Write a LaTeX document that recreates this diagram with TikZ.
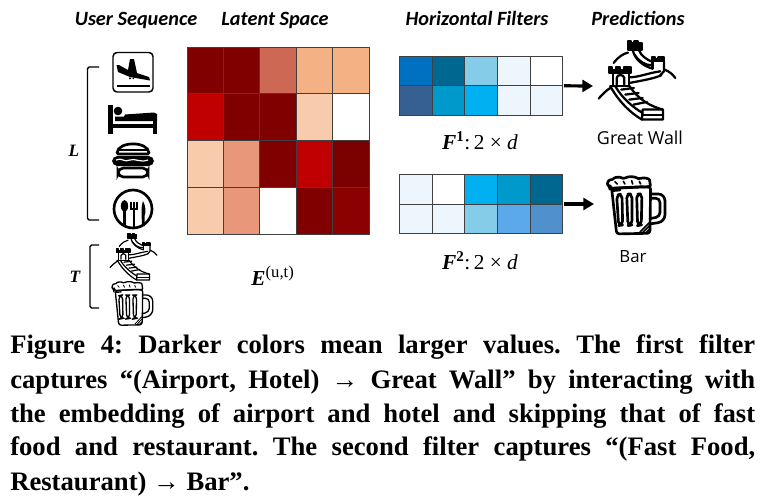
\documentclass[tikz,border=0pt]{standalone}
\usepackage{fontspec}
\setmainfont{Liberation Serif}
\setsansfont{Carlito}
\newfontfamily\lblfont{Open Sans}
\usetikzlibrary{arrows.meta}
\definecolor{dkA}{HTML}{800000}
\definecolor{dkB}{HTML}{8B0000}
\definecolor{dkC}{HTML}{7B0000}
\definecolor{rdA}{HTML}{C00000}
\definecolor{rdB}{HTML}{CD6855}
\definecolor{orA}{HTML}{F4B183}
\definecolor{orB}{HTML}{F8CBAD}
\definecolor{orC}{HTML}{E9977A}
\definecolor{blA}{HTML}{0070C0}
\definecolor{blB}{HTML}{006890}
\definecolor{blC}{HTML}{85CCE8}
\definecolor{blD}{HTML}{EEF6FD}
\definecolor{blE}{HTML}{366092}
\definecolor{blF}{HTML}{0099CC}
\definecolor{blG}{HTML}{00B0F0}
\definecolor{blH}{HTML}{5BA8EA}
\definecolor{blI}{HTML}{5090CC}
\definecolor{gridc}{HTML}{404040}
\tikzset{
  head/.style={font=\sffamily\bfseries\itshape\fontsize{15.2}{17}\selectfont,anchor=base,inner sep=0pt},
  capline/.style={anchor=base west,inner sep=0pt,font=\bfseries\fontsize{20}{24}\selectfont},
  lbl/.style={font=\lblfont\fontsize{13.4}{15}\selectfont,anchor=center,inner sep=0pt},
  lblb/.style={font=\lblfont\fontsize{12.6}{15}\selectfont,anchor=center,inner sep=0pt},
  matlbl/.style={font=\fontsize{16}{18}\selectfont,anchor=center,inner sep=0pt},
  sidelbl/.style={font=\bfseries\itshape\fontsize{13}{15}\selectfont,anchor=center,inner sep=0pt},
  brk/.style={draw=black,line width=1pt,rounded corners=1.2pt},
  cellg/.style={draw=gridc,line width=0.55pt},
  area/.style={inner sep=0pt,outer sep=0pt,draw=none},
  flow/.style={-{Triangle[length=8pt,width=9pt]},line width=2.4pt,black},
}
\newcommand{\wallicon}[5]{%
\begin{scope}[shift={(#1,#2)},xscale=#3,yscale=#4,line width=#5,line cap=round,line join=round]
 \draw (65,75) .. controls (80,55) and (95,47) .. (108,44);
 \draw (218,95) .. controls (232,100) and (243,110) .. (250,120);
 \draw (20,182) .. controls (30,170) and (42,158) .. (55,150);
 \draw[fill=black] (108,20) -- (108,10) -- (118,10) -- (118,15) -- (128,15) -- (128,10) -- (138,10) -- (138,15) -- (150,15) -- (150,35) -- (108,35) -- cycle;
 \draw (122,35) .. controls (128,65) and (155,85) .. (182,92);
 \draw (140,35) .. controls (148,55) and (165,65) .. (182,72);
 \draw (128,50) .. controls (140,70) and (160,82) .. (180,82);
 \draw[fill=black] (180,58) -- (190,58) -- (190,62) -- (200,62) -- (200,58) -- (216,58) -- (216,70) -- (180,70) -- cycle;
 \draw (216,70) -- (216,100) -- (205,112);
 \draw (182,92) -- (182,70);
 \draw (112,118) .. controls (140,118) and (170,105) .. (205,100);
 \draw (112,135) .. controls (150,128) and (185,122) .. (208,112);
 \draw[fill=black] (50,88) -- (60,88) -- (60,95) -- (72,95) -- (72,88) -- (85,88) -- (85,95) -- (97,95) -- (97,88) -- (118,88) -- (118,105) -- (50,105) -- cycle;
 \draw (62,105) -- (62,145);
 \draw (110,105) -- (110,145);
 \draw (55,145) -- (113,145);
 \draw (74,140) -- (74,120) .. controls (76,108) and (94,108) .. (97,120) -- (97,140);
 \draw (55,145) .. controls (80,190) and (115,225) .. (150,245);
 \draw (70,145) .. controls (90,180) and (125,210) .. (152,225);
 \draw (113,145) .. controls (140,185) and (175,205) .. (213,215);
 \draw (150,245) -- (213,245) -- (213,215) -- (152,215) -- (150,245);
 \draw (150,232) -- (213,232);
 \draw (88,155) -- (126,150);
 \draw (100,170) -- (140,165);
 \draw (112,185) -- (152,180);
 \draw (125,200) -- (165,192);
\end{scope}}
\newcommand{\beericon}[5]{%
\begin{scope}[shift={(#1,#2)},xscale=#3,yscale=#4,line width=#5,line cap=round,line join=round]
 \draw[rounded corners=2pt] (35,55) -- (152,50) -- (150,190) -- (50,192) -- cycle;
 \draw[rounded corners=2pt] (30,50) .. controls (20,42) and (25,30) .. (38,30) .. controls (45,22) and (60,20) .. (70,28) .. controls (85,18) and (105,20) .. (115,28) .. controls (130,22) and (148,25) .. (150,38) .. controls (152,50) and (140,52) .. (130,50) -- (30,55) -- cycle;
 \draw[line width=0.6*#5] (45,35) -- (52,42) (70,34) -- (75,42) (95,32) -- (98,42) (118,34) -- (122,42);
 \draw (36,62) -- (60,60);
 \draw[rounded corners=3pt] (50,75) -- (66,72) -- (68,165) -- (56,167) -- cycle;
 \draw[rounded corners=3pt] (80,72) -- (96,72) -- (96,165) -- (84,167) -- cycle;
 \draw[rounded corners=3pt] (110,72) -- (126,72) -- (124,165) -- (113,167) -- cycle;
 \draw[rounded corners=5pt] (152,72) -- (195,72) -- (195,155) -- (150,162);
 \draw[rounded corners=3pt] (152,85) -- (180,85) -- (180,140) -- (150,146);
 \draw[line width=0.6*#5] (128,188) -- (148,168) (136,190) -- (149,178) (120,186) -- (148,158);
\end{scope}}
\begin{document}
\begin{tikzpicture}[x=0.75pt,y=-0.75pt]
\useasboundingbox (0,0) rectangle (765,504);
\frenchspacing
% headings
\node[head] (h1) at (136,25.5) {User Sequence};
\node[head] (h2) at (275,25.5) {Latent Space};
\node[head] (h3) at (477,25.5) {Horizontal Filters};
\node[head] (h4) at (638,25.5) {Predictions};
% brackets
\draw[brk] (99,67) -- (87.5,67) -- (87.5,220) -- (99,220);
\draw[brk] (99,245) -- (90,245) -- (90,308) -- (99,308);
\node[sidelbl] (lL) at (74,151) {L};
\node[sidelbl] (lT) at (75,277) {T};
% airport
\draw[line width=1.1pt,rounded corners=3pt] (113,52.5) rectangle (153,92);
\fill (116.5,65) -- (119,65) -- (128,70) -- (130,59) -- (134,59) -- (137,73) -- (149,77) -- (150,80.5) -- (130,77) -- (118,72) -- cycle;
\draw[line width=1.2pt] (117,86) -- (150,86);
\fill (129,77.5) rectangle (131,79) (132.5,77.5) rectangle (134,79);
% bed
\fill (108,105) rectangle (112.5,134);
\fill (108,124) rectangle (157,128);
\fill (153,120) rectangle (157,134);
\fill (118,111) circle [radius=4.3];
\fill (115,116.5) -- (124,116.5) -- (125,114.5) -- (154,112.5) -- (157,114) -- (157,121) -- (115,121) -- cycle;
% burger
\draw[line width=2pt,rounded corners=1pt] (117,154) .. controls (118,141) and (148,141) .. (149,154) -- cycle;
\draw[line width=1.2pt] (117,150) -- (149,150);
\fill[rounded corners=4pt] (112,156) rectangle (154,166);
\draw[white,line width=0.9pt] (116,160) .. controls (122,157) and (124,163) .. (130,160) .. controls (135,158) and (140,163) .. (148,160);
\draw[line width=2pt,rounded corners=4pt] (118,168) -- (118,177) -- (148,177) -- (148,168) -- cycle;
% restaurant
\draw[line width=2pt] (133,209) circle [radius=19];
\fill (124.5,206) ellipse [x radius=3.6,y radius=6];
\draw[line width=1.8pt] (124.5,210) -- (124.5,226);
\draw[line width=1.7pt] (134,209) -- (134,227);
\draw[line width=0.8pt] (131,202) -- (131,209) -- (137,209) -- (137,202) (134,202) -- (134,209);
\fill (143,201) .. controls (146,206) and (146,213) .. (144.5,216) -- (144.5,226) -- (142,226) -- (141.5,212) .. controls (141.5,208) and (142,204) .. (143,201) -- cycle;
% small wall and beer
\wallicon{106}{231.5}{0.204}{0.198}{0.9pt}
\beericon{107}{276.7}{0.235}{0.253}{1pt}
% latent grid
\node[area,minimum width=136.5pt,minimum height=140.25pt] (E) at (278,140.5) {};
\foreach \r/\cols in {0/{dkA,dkA,rdB,orA,orA},1/{rdA,dkA,dkA,orB,white},2/{orB,orC,dkA,rdA,dkC},3/{orB,orC,white,dkA,dkB}}{
  \foreach \c [count=\i from 0] in \cols {
    \fill[\c] ({187+36.4*\i},{47+46.75*\r}) rectangle ({187+36.4*(\i+1)},{47+46.75*(\r+1)});
    \draw[cellg] ({187+36.4*\i},{47+46.75*\r}) rectangle ({187+36.4*(\i+1)},{47+46.75*(\r+1)});
  }
}
\node[matlbl] (Elbl) at (273,276) {\textbf{\textit{E}}\textsuperscript{\fontsize{12.5}{13}\selectfont (u,t)}};
% filter 1
\node[area,minimum width=122.25pt,minimum height=44.75pt] (F1) at (480.8,85.8) {};
\foreach \r/\cols in {0/{blA,blB,blC,blD,white},1/{blE,blF,blG,blD,blD}}{
  \foreach \c [count=\i from 0] in \cols {
    \fill[\c] ({399.5+32.6*\i},{56+29.85*\r}) rectangle ({399.5+32.6*(\i+1)},{56+29.85*(\r+1)});
    \draw[cellg] ({399.5+32.6*\i},{56+29.85*\r}) rectangle ({399.5+32.6*(\i+1)},{56+29.85*(\r+1)});
  }
}
\node[matlbl] (F1lbl) at (480,141) {\textbf{\textit{F}}\textsuperscript{\textbf{1}}:\,2 × \textit{d}};
% filter 2
\node[area,minimum width=122.25pt,minimum height=44.5pt] (F2) at (480.8,204) {};
\foreach \r/\cols in {0/{blD,white,blG,blF,blB},1/{blD,blD,blC,blH,blI}}{
  \foreach \c [count=\i from 0] in \cols {
    \fill[\c] ({399.5+32.6*\i},{174.3+29.7*\r}) rectangle ({399.5+32.6*(\i+1)},{174.3+29.7*(\r+1)});
    \draw[cellg] ({399.5+32.6*\i},{174.3+29.7*\r}) rectangle ({399.5+32.6*(\i+1)},{174.3+29.7*(\r+1)});
  }
}
\node[matlbl] (F2lbl) at (480,261) {\textbf{\textit{F}}\textsuperscript{\textbf{2}}:\,2 × \textit{d}};
% predictions
\node[area,minimum width=30pt,minimum height=58pt] (wall) at (637,86) {};
\node[area,minimum width=30pt,minimum height=44pt] (bar) at (637,204) {};
\wallicon{592}{38}{0.333}{0.333}{1.7pt}
\beericon{600}{170}{0.333}{0.333}{2pt}
\draw[flow] (F1.east) ++(1.5,0) -- (593,86);
\draw[flow] (F2.east) ++(1.5,0) -- (594,204);
\node[lbl] (gw) at (640,138) {Great Wall};
\node[lblb] (br) at (633,257) {Bar};
% caption
\node[capline] (c1) at (10,353) {\makebox[558.75pt][s]{Figure 4: Darker colors mean larger values. The first filter}};
\node[capline] (c2) at (10,388) {\makebox[558.75pt][s]{captures “(Airport, Hotel) → Great Wall” by interacting with}};
\node[capline] (c3) at (10,422) {\makebox[558.75pt][s]{the embedding of airport and hotel and skipping that of fast}};
\node[capline] (c4) at (10,455) {\makebox[558.75pt][s]{food and restaurant. The second filter captures “(Fast Food,}};
\node[capline] (c5) at (10,490) {Restaurant) → Bar”.};
\end{tikzpicture}
\end{document}
